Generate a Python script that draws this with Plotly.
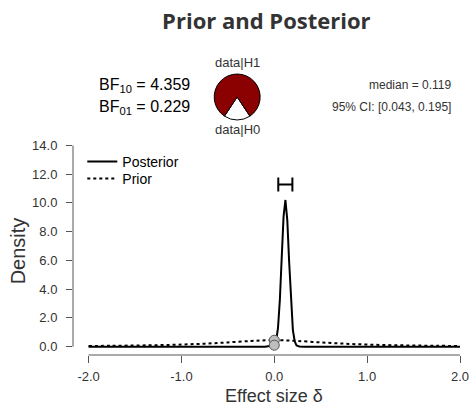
import plotly.graph_objects as go

# ---- data ----
prior_x = [-2.0, -1.75, -1.5, -1.25, -1.0, -0.75, -0.5, -0.25, -0.1, 0.0, 0.1, 0.25, 0.5, 0.75, 1.0, 1.25, 1.5, 1.75, 2.0]
prior_y = [0.050, 0.063, 0.082, 0.109, 0.150, 0.212, 0.300, 0.400, 0.441, 0.450, 0.441, 0.400, 0.300, 0.212, 0.150, 0.109, 0.082, 0.063, 0.050]

posterior_x = [-2.0, -0.1, 0.0, 0.02, 0.04, 0.06, 0.08, 0.10, 0.12, 0.14, 0.16, 0.18, 0.20, 0.22, 0.24, 0.27, 0.32, 2.0]
posterior_y = [0.0, 0.0, 0.10, 0.41, 1.30, 3.26, 6.20, 9.05, 10.2, 8.80, 5.90, 3.00, 1.17, 0.36, 0.08, 0.01, 0.0, 0.0]

point_x = [0.0, 0.0]
point_y = [0.450, 0.103]   # prior and posterior density at delta = 0

bf10 = 4.359
bf01 = 0.229
median = 0.119
ci_low, ci_high = 0.043, 0.195

x_ticks = [-2.0, -1.0, 0.0, 1.0, 2.0]
x_tick_labels = ["-2.0", "-1.0", "0.0", "1.0", "2.0"]
y_ticks = [0, 2, 4, 6, 8, 10, 12, 14]
y_tick_labels = ["0.0", "2.0", "4.0", "6.0", "8.0", "10.0", "12.0", "14.0"]

# ---- layout constants ----
W, H = 472, 409
ML, MR, MT, MB = 72.7, 12, 30, 54
PW = W - ML - MR
PH = H - MT - MB
plot_top_px = 145.3
ydom_top = (H - MB - plot_top_px) / PH


def px_x(p):
    return (p - ML) / PW


def px_y(p):
    return (H - MB - p) / PH


FONT = "Liberation Sans, Arial, sans-serif"
AX = "#555555"
TXT = "#333333"

fig = go.Figure()

fig.add_trace(go.Scatter(
    x=posterior_x, y=posterior_y, mode="lines", name="Posterior", legend="legend",
    line=dict(color="black", width=2), hoverinfo="skip"))
fig.add_trace(go.Scatter(
    x=prior_x, y=prior_y, mode="lines", name="Prior", line_shape="spline", legend="legend2",
    line=dict(color="black", width=2, dash="3px,3px"), hoverinfo="skip"))

# credible interval bar
ci_y = 11.27
fig.add_trace(go.Scatter(
    x=[median], y=[ci_y], mode="markers", showlegend=False,
    marker=dict(size=1, opacity=0),
    error_x=dict(type="data", symmetric=False, array=[ci_high - median],
                 arrayminus=[median - ci_low], color="black", thickness=2, width=7),
    hoverinfo="skip"))

# points at delta = 0
fig.add_trace(go.Scatter(
    x=point_x, y=point_y, mode="markers", showlegend=False,
    marker=dict(size=10, color="#BEBEBE", line=dict(color="#555555", width=1)),
    hoverinfo="skip"))

# pie chart of data|H1 vs data|H0
p_h1 = bf10 / (1 + bf10)
p_h0 = 1 - p_h1
cx, cy, r = 237, 97, 23
fig.add_trace(go.Pie(
    values=[p_h0, p_h1], labels=["data|H0", "data|H1"], sort=False,
    direction="clockwise", rotation=180 - p_h0 * 360 / 2,
    marker=dict(colors=["white", "#8B0000"], line=dict(color="black", width=1)),
    textinfo="none", hoverinfo="skip", showlegend=False,
    domain=dict(x=[px_x(cx - r), px_x(cx + r)], y=[px_y(cy + r), px_y(cy - r)])))

# axis lines (R style, offset)
fig.add_shape(type="line", xref="x", yref="paper", x0=x_ticks[0], x1=x_ticks[-1], y0=0, y1=0,
              line=dict(color=AX, width=1))
fig.add_shape(type="line", xref="paper", yref="y", x0=0, x1=0, y0=y_ticks[0], y1=y_ticks[-1],
              line=dict(color=AX, width=1))


def note(text, x, y, xanchor, size, color):
    return dict(text=text, x=px_x(x), y=px_y(y), xref="paper", yref="paper",
                xanchor=xanchor, yanchor="middle", showarrow=False,
                font=dict(family=FONT, size=size, color=color))


ann = [
    note("BF<sub>10</sub> = " + f"{bf10:.3f}", 97, 86, "left", 16, "black"),
    note("BF<sub>01</sub> = " + f"{bf01:.3f}", 97, 107, "left", 16, "black"),
    note("data|H1", cx, 62, "center", 13, TXT),
    note("data|H0", cx, 129, "center", 13, TXT),
    note(f"median = {median:.3f}", 453, 85, "right", 12, TXT),
    note(f"95% CI: [{ci_low:.3f}, {ci_high:.3f}]", 453, 107, "right", 12, TXT),
    # axis titles, centred on the axis lines as in the reference
    dict(text="Effect size δ", x=(x_ticks[0] + x_ticks[-1]) / 2, xref="x",
         y=px_y(396), yref="paper", xanchor="center", yanchor="middle", showarrow=False,
         font=dict(family=FONT, size=18, color=TXT)),
    dict(text="Density", x=px_x(18), xref="paper", y=px_y(251), yref="paper",
         xanchor="center", yanchor="middle", textangle=-90, showarrow=False,
         font=dict(family=FONT, size=20, color=TXT)),
]

leg_common = dict(xanchor="left", yanchor="middle", bgcolor="rgba(0,0,0,0)",
                  font=dict(family=FONT, size=14, color="black"), itemwidth=30,
                  borderwidth=0)

fig.update_layout(
    width=W, height=H, margin=dict(l=ML, r=MR, t=MT, b=MB, pad=0),
    paper_bgcolor="white", plot_bgcolor="white",
    title=dict(text="<b>Prior and Posterior</b>", x=(ML + PW / 2) / W, xanchor="center",
               y=1 - 29 / H, yanchor="bottom",
               font=dict(family="Open Sans, sans-serif", size=22, color=TXT)),
    showlegend=True,
    legend=dict(x=px_x(82), y=px_y(162), **leg_common),
    legend2=dict(x=px_x(82), y=px_y(179), **leg_common),
    annotations=ann,
    xaxis=dict(range=[-2 - (88.3 - ML) / 93.0, 2.0], tickvals=x_ticks, ticktext=x_tick_labels,
               showgrid=False, zeroline=False, showline=False, ticks="outside", ticklen=7,
               tickcolor=AX, tickwidth=1, tickfont=dict(family=FONT, size=13, color=TXT),
               ticklabelstandoff=2, automargin=False, fixedrange=True),
    yaxis=dict(domain=[0, ydom_top], range=[-(355 - 346.7) / 14.39, 14.0],
               tickvals=y_ticks, ticktext=y_tick_labels,
               showgrid=False, zeroline=False, showline=False, ticks="outside", ticklen=6,
               tickcolor=AX, tickwidth=1, tickfont=dict(family=FONT, size=13, color=TXT),
               ticklabelstandoff=6, automargin=False, fixedrange=True),
)

fig.write_html("out.html", config={"displayModeBar": False},
               post_script="document.body.style.margin='0';document.body.style.overflow='hidden';")
